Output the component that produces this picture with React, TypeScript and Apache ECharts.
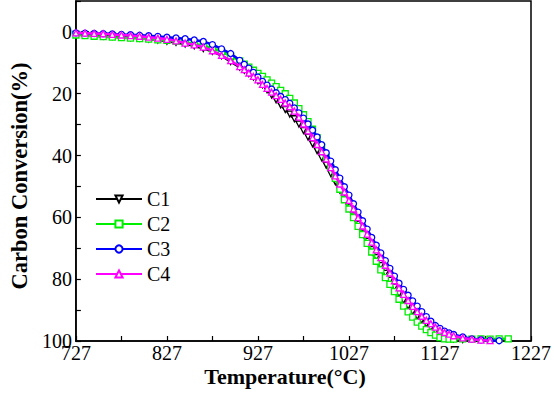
import React, { useEffect, useRef } from "react";
import * as echarts from "echarts";

const temps = [
  727, 737, 747, 757, 767, 777, 787, 797, 807, 817, 827, 837, 847, 857, 867, 877, 887, 897, 907,
  912, 917, 922, 927, 932, 937, 942, 947, 952, 957, 962, 967, 972, 977, 982, 987, 992, 997,
  1002, 1007, 1012, 1017, 1022, 1027, 1032, 1037, 1042, 1047, 1052, 1057, 1062, 1067, 1072, 1077,
  1082, 1087, 1092, 1097, 1102, 1107, 1112, 1117, 1122, 1127, 1132, 1137, 1142,
  1152, 1162, 1172, 1182, 1192, 1202,
];

const c1Values = [
  0.8, 0.9, 1.1, 1.3, 1.4, 1.6, 1.8, 2, 2.3, 2.6, 3, 3.4, 3.9, 4.5, 5.4, 6.3, 7.7, 9.6, 11.4,
  12.4, 13.5, 14.6, 15.8, 17.1, 18.7, 20.4, 22, 23.6, 25.1, 26.6, 28.1, 29.8, 31.9, 34, 36.2, 38.4, 40.7,
  43.1, 45.8, 48.5, 51.2, 53.9, 56.7, 59.5, 62.3, 65.1, 67.8, 70.4, 73, 75.6, 78.1, 80.4, 82.6,
  84.7, 86.8, 88.7, 90.5, 92, 93.3, 94.5, 95.7, 96.9, 97.9, 98.6, 99, 99.3,
  99.5,
];

const c2Values = [
  1, 1.2, 1.4, 1.55, 1.7, 1.85, 2, 2.15, 2.35, 2.55, 2.75, 3, 3.4, 3.8, 4.5, 5.3, 6.4, 7.8, 9.4,
  10.4, 11.4, 12.4, 13.4, 14.4, 15.5, 16.6, 17.7, 18.9, 20, 21.5, 23, 24.8, 26.8, 29, 31.5, 34.2, 37.2,
  40.4, 43.9, 47.4, 50.9, 54.3, 57.3, 60.1, 62.9, 65.6, 68.4, 71.2, 74.2, 77, 79.5, 81.7, 84,
  86.5, 88.7, 90.6, 92.3, 93.9, 95.2, 96.3, 97.3, 98.1, 98.9, 99.3, 99.4, 99.4,
  99.3, 99.4, 99.3, 99.4, 99.3, 99.3,
];

const c3Values = [
  0.3, 0.4, 0.5, 0.55, 0.65, 0.8, 0.9, 1.1, 1.25, 1.45, 1.7, 1.95, 2.2, 2.6, 3.1, 4.1, 5.5, 7, 9.2,
  10.5, 11.7, 13.1, 14.6, 16, 17.2, 18.5, 19.7, 20.9, 21.9, 23.1, 24.6, 26.2, 27.9, 29.8, 31.8, 34, 36.5,
  39.1, 41.8, 44.6, 47.3, 50.1, 52.8, 55.6, 58.3, 61.1, 63.8, 66.5, 69, 71.5, 74, 76.5, 79,
  81.3, 83.3, 85.2, 87, 88.7, 90.5, 92.1, 93.6, 95, 95.9, 96.8, 97.4, 97.9,
  98.7, 99.3, 99.6, 99.8, 99.9,
];

const c4Values = [
  0.3, 0.4, 0.5, 0.6, 0.8, 1, 1.2, 1.4, 1.7, 2, 2.4, 2.9, 3.6, 4.2, 4.9, 6.1, 7.6, 9.3, 11.2,
  12.2, 13.3, 14.4, 15.5, 17, 18.3, 19.5, 20.6, 21.8, 23, 24.2, 25.6, 27.6, 29.8, 32, 34.2, 36.4, 38.7,
  41.1, 43.9, 46.6, 49.2, 51.8, 54.5, 57.3, 60.1, 62.8, 65.4, 68, 70.5, 73, 75.5, 78, 80.5,
  82.8, 84.9, 86.9, 88.8, 90.5, 92, 93.3, 94.4, 95.5, 96.5, 97.2, 97.8, 98.3,
  99, 99.4, 99.7, 99.9,
];

const seriesNames = ["C1", "C2", "C3", "C4"];
const seriesColors = ["#000000", "#00ee00", "#0000ff", "#ff00ff"];
const seriesSymbols = ["triangle", "rect", "circle", "triangle"];
const seriesRotations = [180, 0, 0, 0];
const xTickLabels = ["727", "827", "927", "1027", "1127", "1227"];
const yTickLabels = ["0", "20", "40", "60", "80", "100"];
const xTitle = "Temperature(\u00B0C)";
const yTitle = "Carbon Conversion(%)";

const xStart = 727;
const FONT = "'Liberation Serif', 'Times New Roman', serif";

export default function App() {
  const ref = useRef<HTMLDivElement>(null);

  useEffect(() => {
    if (!ref.current) return;
    const chart = echarts.init(ref.current, undefined, { renderer: "svg" });
    const allValues = [c1Values, c2Values, c3Values, c4Values];
    const series = allValues.map((vals, i) => ({
      name: seriesNames[i],
      type: "line",
      data: vals.map((v, j) => [temps[j] - xStart, v]),
      symbol: seriesSymbols[i],
      symbolRotate: seriesRotations[i],
      symbolSize: 6,
      showSymbol: true,
      lineStyle: { color: seriesColors[i], width: 2.5 },
      itemStyle: { color: "#ffffff", borderColor: seriesColors[i], borderWidth: 1.3 },
      emphasis: { disabled: true },
      z: 2 + i,
    }));

    chart.setOption({
      animation: false,
      backgroundColor: "#ffffff",
      grid: {
        left: 58,
        right: 21,
        top: 1,
        bottom: 54,
        show: true,
        borderColor: "#000",
        borderWidth: 1.5,
      },
      legend: {
        orient: "vertical",
        left: 90,
        top: 184,
        itemWidth: 46,
        itemHeight: 9,
        itemGap: 5,
        textStyle: { fontFamily: FONT, fontSize: 20, color: "#000", lineHeight: 20 },
        data: seriesNames,
      },
      graphic: [
        {
          type: "text",
          x: 285,
          y: 376,
          style: {
            text: xTitle,
            fontFamily: FONT,
            fontSize: 22,
            fontWeight: "bold",
            fill: "#000",
            textAlign: "center",
            textVerticalAlign: "middle",
          },
        },
      ],
      xAxis: {
        type: "value",
        position: "bottom",
        min: 0,
        max: 500,
        interval: 50,
        axisLine: { onZero: false, lineStyle: { color: "#000", width: 1.5 } },
        axisTick: { inside: true, length: 5, lineStyle: { color: "#000", width: 1.2 } },
        axisLabel: {
          fontFamily: FONT,
          fontSize: 20,
          color: "#000",
          margin: 2,
          formatter: (v: number) => {
            const idx = xTickLabels.indexOf(String(v + xStart));
            return v % 100 === 0 && idx >= 0 ? xTickLabels[idx] : "";
          },
        },
        splitLine: { show: false },
      },
      yAxis: {
        type: "value",
        position: "left",
        min: -10,
        max: 100,
        interval: 10,
        inverse: true,
        name: yTitle,
        nameLocation: "middle",
        nameGap: 41,
        nameRotate: 90,
        nameTextStyle: {
          fontFamily: FONT,
          fontSize: 22.5,
          fontWeight: "bold",
          color: "#000",
          padding: [0, 10, 0, 0],
        },
        axisLine: { onZero: false, lineStyle: { color: "#000", width: 1.5 } },
        axisTick: { inside: true, length: 5, lineStyle: { color: "#000", width: 1.2 } },
        axisLabel: {
          fontFamily: FONT,
          fontSize: 20,
          color: "#000",
          margin: 4,
          formatter: (v: number) => {
            const s = String(v);
            return v >= 0 && v % 20 === 0 && yTickLabels.includes(s) ? s : "";
          },
        },
        splitLine: { show: false },
      },
      series,
    });
    return () => chart.dispose();
  }, []);

  return <div ref={ref} style={{ width: 554, height: 395, position: "absolute", left: 0, top: 0 }} />;
}
